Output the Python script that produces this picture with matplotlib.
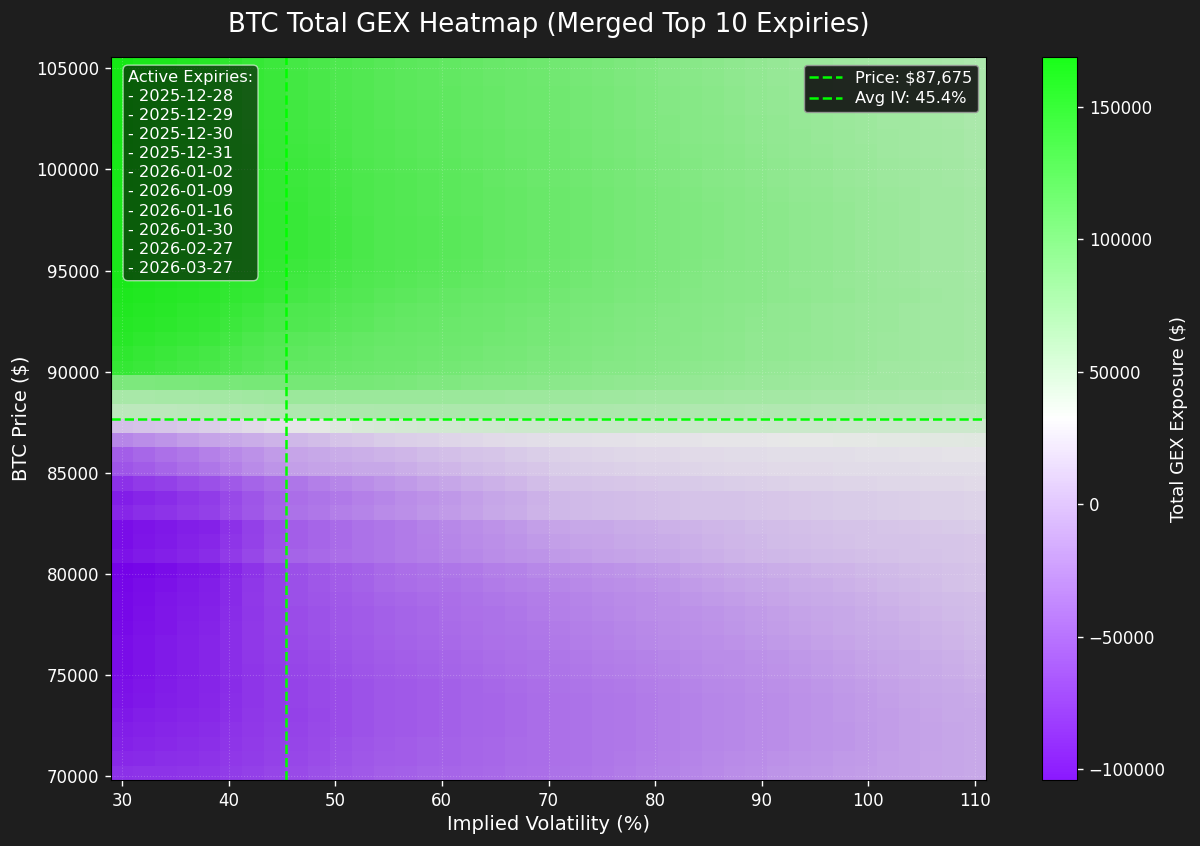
import matplotlib
matplotlib.use('Agg')
import matplotlib.pyplot as plt
import numpy as np
from matplotlib.colors import LinearSegmentedColormap

BG = '#1e1e1e'
plt.rcParams.update({
    'font.family': 'DejaVu Sans',
    'font.size': 12,
    'text.color': 'white',
    'axes.labelcolor': 'white',
    'xtick.color': 'white',
    'ytick.color': 'white',
    'figure.facecolor': BG,
    'axes.facecolor': BG,
})

# Axis values
iv_axis = np.linspace(30, 110, 40)
price_axis = np.linspace(70140, 105210, 50)
spot_price = 87675
avg_iv = 45.4
gex_vmin = -104200
gex_vmax = 168900

expiries = ['2025-12-28', '2025-12-29', '2025-12-30', '2025-12-31', '2026-01-02',
            '2026-01-09', '2026-01-16', '2026-01-30', '2026-02-27', '2026-03-27']

# Total GEX in thousands of $; first row = lowest price
gex_k = [
    [-76,-75,-75,-74,-73,-70,-67,-64,-61,-58,-55,-52,-49,-48,-46,-45,-44,-43,-41,-40,-38,-36,-34,-32,-30,-28,-26,-24,-22,-20,-17,-16,-15,-13,-12,-11,-10,-8,-7,-5],
    [-81,-80,-78,-77,-75,-72,-69,-66,-63,-60,-57,-54,-51,-50,-48,-47,-45,-44,-42,-41,-39,-37,-35,-33,-31,-29,-27,-25,-23,-21,-19,-17,-16,-14,-13,-11,-10,-8,-7,-6],
    [-85,-83,-81,-79,-77,-74,-71,-67,-64,-61,-58,-55,-52,-50,-48,-47,-45,-44,-42,-41,-39,-37,-35,-34,-32,-30,-28,-26,-25,-23,-21,-19,-17,-16,-14,-12,-10,-9,-7,-6],
    [-88,-86,-83,-81,-79,-75,-72,-68,-65,-62,-60,-57,-54,-52,-50,-48,-46,-45,-43,-41,-39,-37,-35,-34,-32,-30,-28,-26,-25,-23,-21,-19,-17,-16,-14,-12,-10,-9,-7,-6],
    [-91,-88,-86,-83,-81,-77,-73,-70,-66,-63,-60,-57,-54,-52,-50,-48,-46,-45,-43,-41,-39,-37,-35,-34,-32,-30,-28,-26,-25,-23,-21,-19,-17,-15,-13,-12,-10,-8,-6,-5],
    [-94,-91,-88,-85,-82,-78,-74,-69,-65,-62,-60,-57,-54,-52,-50,-48,-46,-45,-43,-41,-39,-37,-35,-34,-32,-30,-28,-26,-25,-23,-21,-19,-17,-15,-13,-11,-9,-7,-5,-4],
    [-95,-92,-89,-86,-83,-79,-74,-70,-65,-62,-60,-57,-54,-52,-50,-48,-46,-44,-42,-40,-38,-36,-34,-33,-31,-29,-27,-25,-24,-22,-20,-18,-16,-14,-12,-10,-8,-6,-4,-2],
    [-97,-94,-90,-87,-83,-78,-74,-69,-64,-61,-58,-55,-52,-50,-48,-46,-44,-42,-40,-38,-36,-34,-32,-31,-29,-27,-25,-23,-22,-20,-18,-16,-14,-12,-10,-8,-6,-4,-2,0],
    [-97,-94,-90,-87,-83,-78,-73,-68,-63,-60,-57,-54,-51,-49,-47,-45,-43,-41,-39,-37,-35,-33,-31,-30,-28,-26,-24,-22,-21,-19,-17,-15,-13,-11,-9,-7,-5,-3,-1,1],
    [-97,-94,-90,-87,-83,-78,-72,-67,-61,-58,-55,-52,-49,-47,-45,-43,-41,-39,-37,-35,-33,-31,-29,-27,-25,-23,-22,-20,-18,-16,-14,-12,-10,-8,-6,-4,-2,0,2,4],
    [-99,-95,-92,-88,-84,-78,-72,-66,-60,-57,-54,-51,-48,-46,-44,-42,-40,-38,-36,-34,-32,-30,-28,-26,-24,-22,-20,-18,-16,-14,-12,-10,-8,-6,-4,-3,-1,1,3,5],
    [-100,-96,-92,-89,-85,-79,-73,-66,-60,-57,-54,-51,-48,-46,-44,-41,-39,-37,-35,-32,-30,-28,-26,-24,-22,-20,-19,-17,-15,-13,-11,-9,-7,-5,-3,-1,1,3,5,6],
    [-100,-97,-93,-90,-87,-80,-72,-65,-58,-55,-52,-49,-46,-44,-42,-40,-38,-35,-33,-31,-29,-27,-25,-23,-21,-19,-16,-14,-12,-10,-8,-6,-4,-3,-1,1,3,5,6,7],
    [-101,-98,-95,-91,-88,-80,-73,-65,-58,-54,-50,-47,-43,-41,-39,-37,-35,-32,-30,-28,-26,-24,-22,-20,-18,-16,-13,-11,-9,-7,-5,-3,-2,0,2,4,5,7,9,10],
    [-104,-101,-98,-94,-91,-83,-75,-66,-58,-54,-50,-47,-43,-40,-38,-35,-33,-30,-28,-25,-23,-21,-19,-17,-15,-13,-10,-8,-6,-4,-2,-1,1,2,4,5,7,8,9,10],
    [-94,-90,-87,-83,-79,-71,-63,-54,-46,-43,-40,-38,-35,-32,-30,-27,-25,-22,-19,-17,-14,-12,-10,-9,-7,-5,-3,-1,1,3,4,5,6,7,8,9,10,11,12,13],
    [-97,-93,-90,-86,-82,-74,-66,-57,-49,-45,-42,-38,-35,-32,-29,-26,-23,-20,-17,-14,-11,-9,-8,-6,-4,-3,-1,1,3,4,6,7,8,9,10,10,11,12,12,13],
    [-97,-94,-91,-88,-85,-76,-67,-58,-49,-45,-42,-38,-35,-32,-28,-25,-22,-18,-15,-11,-8,-6,-5,-3,-2,0,1,3,4,6,7,8,9,10,11,12,13,14,15,16],
    [-82,-78,-75,-71,-67,-60,-53,-45,-38,-34,-30,-27,-23,-20,-16,-13,-10,-6,-3,1,4,5,6,7,8,9,10,10,11,12,13,14,15,16,16,17,18,19,19,20],
    [-88,-83,-79,-74,-70,-62,-55,-47,-40,-36,-33,-29,-26,-22,-18,-15,-11,-7,-4,0,4,5,6,7,8,9,10,10,11,12,13,14,15,16,16,17,18,19,19,20],
    [-76,-71,-67,-62,-58,-52,-46,-41,-35,-30,-26,-21,-17,-14,-10,-7,-3,0,3,7,10,11,12,13,14,15,15,16,17,18,19,20,20,21,21,22,22,23,23,24],
    [-55,-50,-45,-40,-35,-29,-23,-17,-11,-9,-8,-6,-5,-2,1,3,6,8,11,13,16,17,18,19,20,20,21,22,23,23,24,24,24,25,25,25,25,26,26,26],
    [-49,-44,-39,-34,-29,-24,-19,-13,-8,-6,-3,-1,1,3,6,8,10,12,15,17,19,20,21,22,23,23,24,24,25,25,26,26,27,27,28,28,29,29,30,30],
    [-26,-21,-17,-12,-8,-5,-2,1,4,7,10,13,16,18,19,21,22,24,25,27,28,28,29,29,30,30,30,31,31,31,32,33,33,34,34,35,35,36,36,37],
    [8,10,12,15,17,21,24,28,31,34,38,41,44,45,46,46,47,48,49,49,50,51,51,51,51,51,50,50,50,50,50,50,50,49,49,49,49,49,49,49],
    [58,59,59,60,61,62,63,65,66,66,67,67,68,68,68,68,68,68,68,68,68,68,68,67,67,67,66,66,66,65,65,65,64,64,64,63,63,63,62,62],
    [70,70,71,71,72,73,75,76,78,78,78,78,78,78,78,78,78,78,77,77,77,77,76,76,75,75,74,74,73,73,72,72,71,71,70,70,69,69,68,68],
    [96,96,97,97,98,98,99,99,100,100,99,99,98,97,95,94,92,91,90,88,87,86,85,84,83,82,82,81,80,79,78,77,76,76,75,74,73,73,72,71],
    [138,135,132,129,126,122,118,115,111,110,108,107,105,104,102,101,99,98,97,95,94,93,91,90,89,87,86,85,84,82,81,80,79,78,77,75,74,73,72,71],
    [142,139,135,132,129,125,121,118,114,112,111,109,107,106,104,103,102,100,99,97,96,95,93,92,91,89,88,87,86,84,83,82,81,80,78,77,76,75,74,72],
    [146,143,140,137,134,130,125,121,117,115,113,111,109,108,106,105,104,102,101,99,98,96,95,93,92,90,89,87,86,84,83,82,81,80,78,77,76,75,74,72],
    [148,146,144,141,138,134,130,126,122,120,117,115,112,110,109,107,105,104,102,100,99,97,96,94,93,91,90,88,87,85,84,83,81,80,79,78,76,75,74,72],
    [150,148,146,143,141,137,133,128,124,122,119,117,114,112,110,109,107,105,103,102,100,98,97,95,94,92,90,89,87,86,84,83,81,80,79,78,76,75,74,72],
    [152,150,148,146,144,141,138,134,129,126,123,120,117,115,113,111,109,108,106,104,102,100,99,97,96,94,92,91,89,88,86,85,83,82,80,79,78,76,75,73],
    [154,152,150,148,146,143,141,137,132,129,126,123,120,118,116,114,112,110,108,106,104,102,100,98,97,95,93,91,89,88,86,84,83,81,80,78,77,75,74,72],
    [155,153,151,149,147,144,143,139,134,131,128,125,122,120,118,116,114,111,109,107,105,103,101,99,98,96,94,92,90,89,87,85,84,82,80,79,77,75,74,72],
    [155,154,152,150,148,145,143,140,136,133,130,126,123,121,119,117,115,112,110,108,106,104,102,100,98,96,95,93,91,89,87,85,84,82,80,79,77,75,74,72],
    [155,154,152,150,148,145,143,140,136,133,130,126,123,121,119,117,115,112,110,108,106,104,102,100,98,96,95,93,91,89,87,85,84,82,80,79,77,75,74,72],
    [155,154,152,150,148,145,143,140,136,133,130,126,123,121,119,117,115,112,110,108,106,104,102,100,98,96,95,93,91,89,87,85,84,82,80,79,77,75,74,72],
    [155,154,152,150,148,145,143,140,136,132,129,125,122,120,118,116,114,112,110,108,106,104,102,100,98,96,95,93,91,89,87,85,84,82,80,79,77,75,74,72],
    [155,154,152,150,148,145,143,139,135,132,129,125,122,120,118,116,114,112,110,108,106,104,102,100,98,96,94,92,90,88,86,84,83,81,80,78,77,75,74,72],
    [156,154,152,150,148,145,142,139,134,131,128,125,122,120,118,116,114,111,109,107,105,103,101,99,97,95,93,91,89,87,85,83,82,80,79,77,76,74,73,71],
    [156,154,152,150,148,145,142,138,134,131,128,124,121,119,117,115,113,111,109,107,105,103,101,99,97,95,93,91,89,87,85,83,82,80,79,77,76,74,73,71],
    [156,154,152,150,148,145,142,137,133,130,126,123,120,118,116,114,112,110,108,106,104,102,100,98,96,94,92,90,88,86,84,82,81,79,78,76,75,73,72,70],
    [157,155,153,151,149,146,141,137,132,129,126,123,120,118,116,114,112,110,108,106,104,102,100,98,96,93,91,89,87,85,83,82,80,79,77,76,75,73,72,70],
    [157,155,153,151,149,145,140,136,131,128,125,122,119,117,115,113,111,109,107,105,103,101,99,97,95,93,91,89,87,85,83,81,80,78,77,75,74,72,71,69],
    [157,155,153,151,149,145,140,136,131,128,125,122,119,117,115,113,111,109,107,105,103,101,99,97,95,92,90,88,86,84,82,81,79,78,76,75,74,72,71,69],
    [158,155,153,150,148,144,139,135,130,127,124,121,118,116,114,113,111,109,107,105,103,101,99,97,95,92,90,88,86,84,82,80,79,77,76,74,73,71,70,68],
    [158,155,153,150,148,144,139,135,130,127,124,121,118,116,114,112,110,108,106,104,102,100,98,96,94,91,89,87,85,83,81,80,78,77,75,74,73,71,70,68],
    [158,155,153,150,147,143,138,134,129,126,124,121,118,116,114,112,110,108,106,104,102,100,98,96,94,91,89,87,85,83,81,79,78,76,75,73,72,70,69,67],
]
gex = np.array(gex_k) * 1000.0

cmap = LinearSegmentedColormap.from_list('gex', ['#7F00FF', '#FFFFFF', '#00FF00'])

W, H = 1200, 846
fig = plt.figure(figsize=(12, 8.46), dpi=100)
ax = fig.add_axes([111 / W, 1 - 780 / H, 875 / W, 723 / H])
cax = fig.add_axes([1042 / W, 1 - 780 / H, 35 / W, 723 / H])

mesh = ax.pcolormesh(iv_axis, price_axis, gex, cmap=cmap, vmin=gex_vmin, vmax=gex_vmax,
                     shading='nearest', alpha=0.9)

ax.axhline(spot_price, color='#00ff00', linestyle='--', linewidth=1.8,
           label=f'Price: ${spot_price:,}')
ax.axvline(avg_iv, color='#00ff00', linestyle='--', linewidth=1.8,
           label=f'Avg IV: {avg_iv}%')

ax.set_xticks(np.arange(30, 111, 10))
ax.set_yticks(np.arange(70000, 105001, 5000))
ax.grid(True, color='white', linestyle=':', linewidth=0.8, alpha=0.2)
ax.tick_params(labelsize=12, length=4.2, width=1, pad=4.2)
for s in ax.spines.values():
    s.set_color('black')

ax.set_xlabel('Implied Volatility (%)', fontsize=14, labelpad=4)
ax.set_ylabel('BTC Price ($)', fontsize=14, labelpad=4)
fig.text(549 / W, 1 - 24.5 / H, 'BTC Total GEX Heatmap (Merged Top 10 Expiries)',
         fontsize=18.7, ha='center', va='center')

leg = ax.legend(loc='upper right', fontsize=11.7, facecolor='#111111', edgecolor='#999999',
                framealpha=0.9, labelspacing=0.35, borderpad=0.35)
for t in leg.get_texts():
    t.set_color('white')

box_text = 'Active Expiries:\n' + '\n'.join('- ' + e for e in expiries)
ax.text(0.0194, 0.982, box_text, transform=ax.transAxes, va='top', ha='left',
        fontsize=11.7, color='white', linespacing=1.34,
        bbox=dict(boxstyle='round,pad=0.3', facecolor='black', edgecolor='white', alpha=0.6))

cax.set_facecolor('white')
cb = fig.colorbar(mesh, cax=cax)
cb.set_label('Total GEX Exposure ($)', fontsize=13, labelpad=3)
cb.ax.tick_params(labelsize=12, color='white', length=4.2, width=1, pad=4.2)
cb.outline.set_edgecolor('black')

fig.savefig('out.png', dpi=100, facecolor=BG)
